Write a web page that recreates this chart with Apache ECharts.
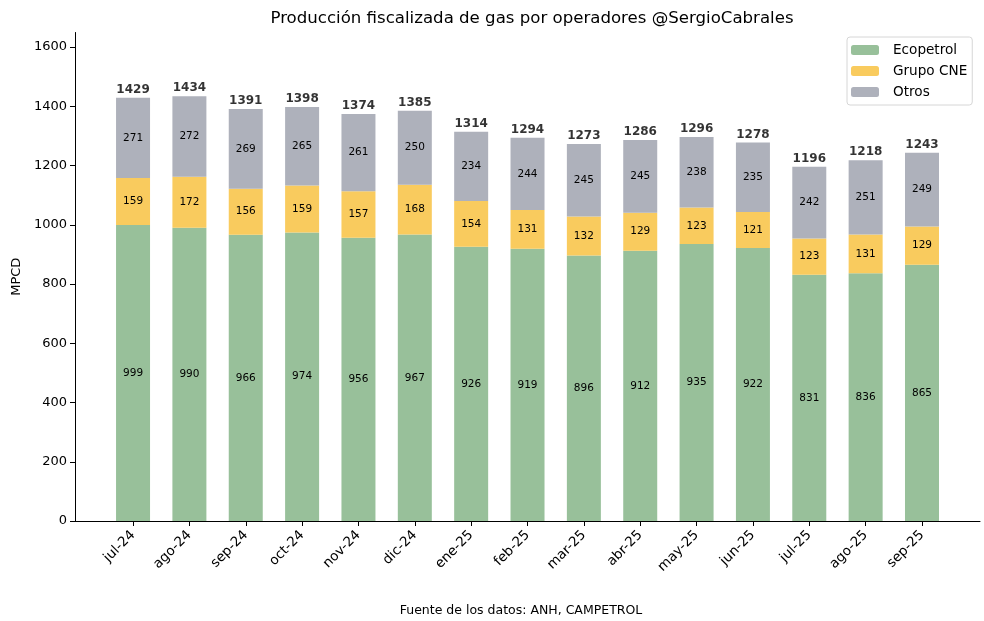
<!DOCTYPE html>
<html><head><meta charset="utf-8">
<script src="https://cdn.jsdelivr.net/npm/echarts@6/dist/echarts.min.js"></script>
<style>html,body{margin:0;padding:0;background:#fff}#c{width:984px;height:621px}</style>
</head><body><div id="c"></div>
<script>
const categories = ['jul-24','ago-24','sep-24','oct-24','nov-24','dic-24','ene-25','feb-25','mar-25','abr-25','may-25','jun-25','jul-25','ago-25','sep-25'];
const ecopetrol = [999,990,966,974,956,967,926,919,896,912,935,922,831,836,865];
const grupoCNE = [159,172,156,159,157,168,154,131,132,129,123,121,123,131,129];
const otros = [271,272,269,265,261,250,234,244,245,245,238,235,242,251,249];

const totals = categories.map((c,i)=>ecopetrol[i]+grupoCNE[i]+otros[i]);
const FONT = 'DejaVu Sans';
const YMAX = 1649.1;
const chart = echarts.init(document.getElementById('c'));
const segLabel = {show:true, position:'inside', color:'#000', fontFamily:FONT, fontSize:10.5, textBorderWidth:0};
const barStyle = c => ({color:c, borderWidth:0});
chart.setOption({
  animation:false,
  textStyle:{fontFamily:FONT},
  title:[
    {text:'Producción fiscalizada de gas por operadores @SergioCabrales', left:527, top:5, textAlign:'center',
     textStyle:{fontFamily:FONT, fontSize:16.6, fontWeight:'normal', color:'#000'}},
    {text:'Fuente de los datos: ANH, CAMPETROL', left:516, top:599, textAlign:'center',
     textStyle:{fontFamily:FONT, fontSize:12.5, fontWeight:'normal', color:'#000'}}
  ],
  legend:{orient:'vertical', left:847, top:37, itemWidth:28, itemHeight:10, itemGap:7,
    padding:[6,5,6,4], borderColor:'#d6d6d6', borderWidth:1, borderRadius:3, backgroundColor:'#fff',
    textStyle:{fontFamily:FONT, fontSize:13.6, color:'#000', padding:[0,0,0,9]},
    data:['Ecopetrol','Grupo CNE','Otros']},
  grid:[
    {left:75, right:4, top:32.5, bottom:100},
    {left:104.87, width:845.3, top:32.5, bottom:100}
  ],
  xAxis:[
    {type:'value', gridIndex:0, min:0, max:1, axisLine:{show:true, onZero:false, lineStyle:{color:'#000'}},
     axisTick:{show:false}, axisLabel:{show:false}, splitLine:{show:false}},
    {type:'category', gridIndex:1, data:categories, axisLine:{show:false},
     axisTick:{show:true, alignWithLabel:true, length:5, lineStyle:{color:'#000'}},
     axisLabel:{rotate:45, margin:12, fontSize:13.5, color:'#000', fontFamily:FONT, interval:0}}
  ],
  yAxis:[
    {type:'value', gridIndex:0, min:0, max:YMAX, interval:200, name:'MPCD', nameLocation:'middle', nameGap:52,
     nameTextStyle:{fontFamily:FONT, fontSize:13, color:'#000'},
     axisLine:{show:true, onZero:false, lineStyle:{color:'#000'}},
     axisTick:{show:true, length:5, lineStyle:{color:'#000'}},
     splitLine:{show:false},
     axisLabel:{fontSize:13, color:'#000', fontFamily:FONT, margin:8, formatter:v=>String(v), showMaxLabel:false}},
    {type:'value', gridIndex:1, min:0, max:YMAX, show:false, splitLine:{show:false}}
  ],
  series:[
    {name:'Ecopetrol', type:'bar', stack:'t', xAxisIndex:1, yAxisIndex:1, barWidth:34, data:ecopetrol, itemStyle:barStyle('#98c09a'), label:segLabel},
    {name:'Grupo CNE', type:'bar', stack:'t', xAxisIndex:1, yAxisIndex:1, barWidth:34, data:grupoCNE, itemStyle:barStyle('#f9cb5e'), label:segLabel},
    {name:'Otros', type:'bar', stack:'t', xAxisIndex:1, yAxisIndex:1, barWidth:34, data:otros, itemStyle:barStyle('#aeb1bb'), label:segLabel},
    {name:'Total', type:'scatter', xAxisIndex:1, yAxisIndex:1, symbolSize:0, data:totals, silent:true,
      itemStyle:{color:'#000'},
      label:{show:true, position:'top', distance:2, fontFamily:FONT, fontSize:12, fontWeight:'bold', color:'#000', textBorderWidth:0}}
  ]
});
</script></body></html>
